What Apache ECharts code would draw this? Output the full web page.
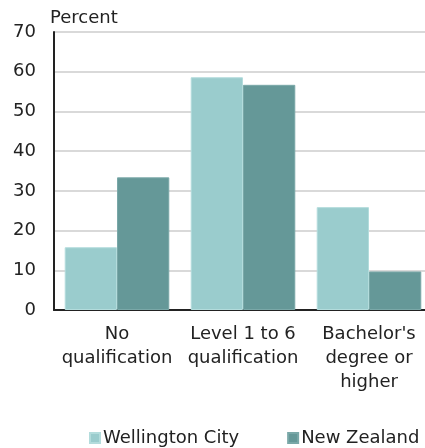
<!DOCTYPE html>
<html>
<head>
<meta charset="utf-8">
<script src="https://cdn.jsdelivr.net/npm/echarts@6/dist/echarts.min.js"></script>
<style>
  html, body { margin: 0; padding: 0; background: #fff; }
  #chart { width: 425px; height: 448px; }
</style>
</head>
<body>
<div id="chart"></div>
<script>
var categories = ["No\nqualification", "Level 1 to 6\nqualification", "Bachelor's\ndegree or\nhigher"];
var wellington = [15.8, 58.6, 25.9];
var newZealand = [33.4, 56.7, 9.7];
var seriesNames = ["Wellington City", "New Zealand"];
var colors = ["#9acccd", "#659898"];
var font = "DejaVu Sans";

var chart = echarts.init(document.getElementById("chart"));
chart.setOption({
  animation: false,
  textStyle: { fontFamily: font },
  // plot runs a little past the right edge, as in the original
  grid: { left: 54, top: 32, width: 378, bottom: 138, outerBoundsMode: "none", containLabel: false },
  legend: {
    left: 89,
    top: 429,
    padding: 0,
    itemWidth: 10,
    itemHeight: 10,
    itemGap: 48,
    icon: "rect",
    textStyle: { fontSize: 18, color: "#222", fontFamily: font, padding: [0, 0, 0, -2] },
    data: seriesNames
  },
  xAxis: {
    type: "category",
    data: categories,
    axisLine: { lineStyle: { color: "#222", width: 2 } },
    axisTick: { show: false },
    axisLabel: {
      interval: 0,
      margin: 12,
      fontSize: 18,
      lineHeight: 24,
      color: "#222",
      fontFamily: font
    }
  },
  yAxis: {
    type: "value",
    min: 0,
    max: 70,
    interval: 10,
    name: "Percent",
    nameLocation: "end",
    nameGap: 5,
    nameTextStyle: { fontSize: 18, color: "#222", align: "left", padding: [0, 0, 0, -4], fontFamily: font },
    axisLine: { show: true, lineStyle: { color: "#222", width: 2 } },
    axisTick: { show: false },
    axisLabel: { margin: 18, fontSize: 18, color: "#222", fontFamily: font },
    splitLine: { lineStyle: { color: "#d9d9d9", width: 2 } }
  },
  series: [
    {
      name: seriesNames[0],
      type: "bar",
      barGap: "0%",
      barCategoryGap: "17%",
      itemStyle: { color: colors[0], borderColor: "#b3dcdc", borderWidth: 1 },
      data: wellington
    },
    {
      name: seriesNames[1],
      type: "bar",
      itemStyle: { color: colors[1], borderColor: "#7aa8a8", borderWidth: 1 },
      data: newZealand
    }
  ]
});
</script>
</body>
</html>
